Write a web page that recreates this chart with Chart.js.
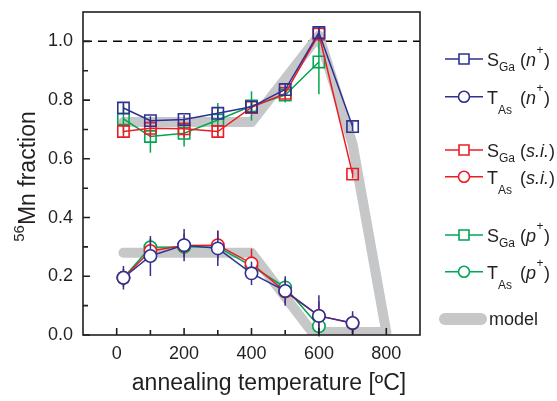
<!DOCTYPE html>
<html>
<head>
<meta charset="utf-8">
<script src="https://cdn.jsdelivr.net/npm/chart.js@4.4.1/dist/chart.umd.min.js"></script>
<style>
  html, body { margin: 0; padding: 0; background: #fff; }
</style>
</head>
<body>
<canvas id="chart" width="557" height="401"></canvas>
<script>
// annealing temperatures [ºC]
const temps = [20, 100, 200, 300, 400, 500, 600, 700];

// substitutional Ga site fraction
const sGaN  = [0.773, 0.730, 0.734, 0.755, 0.777, 0.836, 1.030, 0.710];
const sGaNErr = [0.02, 0.015, 0.015, 0.02, 0.02, 0.02, 0.02, 0.015];
const sGaSI = [0.693, 0.704, 0.702, 0.693, 0.775, 0.823, 1.025, 0.548];
const sGaSIErr = [0.02, 0.03, 0.03, 0.02, 0.02, 0.02, 0.025, 0.015];
const sGaP  = [0.736, 0.676, 0.687, 0.732, 0.780, 0.817, 0.930, null];
const sGaPErr = [0.05, 0.055, 0.045, 0.058, 0.05, 0.025, 0.11, null];

// tetrahedral As site fraction
const tAsN  = [0.195, 0.269, 0.306, 0.295, 0.210, 0.150, 0.065, 0.041];
const tAsNErr = [0.04, 0.068, 0.055, 0.06, 0.04, 0.05, 0.07, 0.04];
const tAsSI = [0.195, 0.286, 0.305, 0.306, 0.244, 0.148, 0.065, 0.040];
const tAsSIErr = [0.03, 0.04, 0.04, 0.05, 0.05, 0.04, 0.05, 0.03];
const tAsP  = [0.195, 0.299, 0.300, 0.300, 0.235, 0.162, 0.030, null];
const tAsPErr = [0.03, 0.03, 0.03, 0.03, 0.03, 0.03, 0.03, null];

// model curves
const modelUpperT = [20, 400, 600, 700, 800];
const modelUpperV = [0.725, 0.725, 1.02, 0.65, 0.01];
const modelLowerT = [20, 400, 580, 800];
const modelLowerV = [0.28, 0.28, 0.01, 0.01];

// axes
const xTicks = [0, 200, 400, 600, 800];
const xMinor = [100, 300, 500, 700];
const yTicks = [0, 0.2, 0.4, 0.6, 0.8, 1.0];
const yMinor = [0.1, 0.3, 0.5, 0.7, 0.9];
const xTitle = "annealing temperature [ºC]";
const yTitleSup = "56";
const yTitle = "Mn fraction";

// legend labels
const legendMain = ["S", "T", "S", "T", "S", "T"];
const legendSub = ["Ga", "As", "Ga", "As", "Ga", "As"];
const legendDop = ["n", "n", "s.i.", "s.i.", "p", "p"];
const legendSup = ["+", "+", "", "", "+", "+"];
const modelLabel = "model";

const FONT = "'Liberation Sans', Arial, Helvetica, sans-serif";
const BLUE = "#2e3192", RED = "#ed1c24", GREEN = "#00a651", GREY = "#c6c7c9";
const INK = "#231f20";

function series(label, vals, errs, color, style, order) {
  const data = [], e = [];
  temps.forEach((t, i) => {
    if (vals[i] != null) { data.push({ x: t, y: vals[i] }); e.push(errs[i]); }
  });
  return {
    label: label,
    data: data,
    errors: e,
    borderColor: color,
    borderWidth: 1.5,
    pointStyle: style,
    pointRadius: style === "rect" ? 8 : 6.2,
    pointBorderWidth: 1.6,
    pointBorderColor: color,
    pointBackgroundColor: style === "rect" ? "rgba(0,0,0,0)" : "#fff",
    tension: 0,
    order: order
  };
}

function model(ts, vs) {
  return {
    label: "model",
    data: ts.map((t, i) => ({ x: t, y: vs[i] })),
    borderColor: GREY,
    borderWidth: 10,
    borderCapStyle: "round",
    borderJoinStyle: "round",
    pointRadius: 0,
    tension: 0,
    order: 10
  };
}

// error bars, drawn just before each dataset
const errorBars = {
  id: "errorBars",
  beforeDatasetDraw(chart, args) {
    const ds = chart.data.datasets[args.index];
    if (!ds.errors) return;
    const y = chart.scales.y;
    const ctx = chart.ctx;
    ctx.save();
    ctx.strokeStyle = ds.borderColor;
    ctx.lineWidth = 1.5;
    args.meta.data.forEach((pt, i) => {
      const v = ds.data[i].y, e = ds.errors[i];
      ctx.beginPath();
      ctx.moveTo(pt.x, y.getPixelForValue(v + e));
      ctx.lineTo(pt.x, y.getPixelForValue(v - e));
      ctx.stroke();
    });
    ctx.restore();
  }
};

// frame, inner ticks, dashed 1.0 line, titles and legend
const decorations = {
  id: "decorations",
  beforeDatasetsDraw(chart) {
    const ctx = chart.ctx, a = chart.chartArea, y = chart.scales.y;
    ctx.save();
    ctx.strokeStyle = "#000";
    ctx.lineWidth = 1.5;
    ctx.setLineDash([9, 6]);
    const py = y.getPixelForValue(1.0);
    ctx.beginPath();
    ctx.moveTo(a.left, py);
    ctx.lineTo(a.right, py);
    ctx.stroke();
    ctx.restore();
  },
  afterDraw(chart) {
    const ctx = chart.ctx, a = chart.chartArea;
    const x = chart.scales.x, y = chart.scales.y;
    ctx.save();
    ctx.strokeStyle = INK;
    ctx.lineWidth = 1.6;
    ctx.strokeRect(a.left, a.top, a.right - a.left, a.bottom - a.top);
    ctx.beginPath();
    yTicks.forEach(v => { const p = y.getPixelForValue(v); ctx.moveTo(a.left, p); ctx.lineTo(a.left + 7, p); });
    yMinor.forEach(v => { const p = y.getPixelForValue(v); ctx.moveTo(a.left, p); ctx.lineTo(a.left + 5, p); });
    xTicks.forEach(v => { const p = x.getPixelForValue(v); ctx.moveTo(p, a.bottom); ctx.lineTo(p, a.bottom - 7); });
    xMinor.forEach(v => { const p = x.getPixelForValue(v); ctx.moveTo(p, a.bottom); ctx.lineTo(p, a.bottom - 5); });
    ctx.stroke();

    // axis titles
    ctx.fillStyle = INK;
    ctx.textBaseline = "alphabetic";
    ctx.textAlign = "left";
    ctx.font = "23px " + FONT;
    const wx = ctx.measureText(xTitle).width;
    ctx.fillText(xTitle, 269 - wx / 2, 390);

    ctx.save();
    ctx.translate(35, 176.5);
    ctx.rotate(-Math.PI / 2);
    ctx.font = "15px " + FONT;
    const w56 = ctx.measureText(yTitleSup).width;
    ctx.font = "23px " + FONT;
    const wMn = ctx.measureText(yTitle).width;
    const x0 = -(w56 + wMn) / 2;
    ctx.font = "15px " + FONT;
    ctx.fillText(yTitleSup, x0, -11);
    ctx.font = "23px " + FONT;
    ctx.fillText(yTitle, x0 + w56, 0);
    ctx.restore();

    // legend
    const rows = [59, 96.7, 150, 176.7, 235, 271.7];
    const colors = [BLUE, BLUE, RED, RED, GREEN, GREEN];
    rows.forEach((ry, i) => {
      const c = colors[i];
      ctx.strokeStyle = c;
      ctx.lineWidth = 1.5;
      ctx.beginPath();
      ctx.moveTo(445, ry); ctx.lineTo(483, ry);
      ctx.stroke();
      ctx.fillStyle = "#fff";
      ctx.lineWidth = 1.6;
      ctx.beginPath();
      if (legendMain[i] === "S") ctx.rect(459, ry - 5, 10, 10);
      else ctx.arc(464, ry, 5.5, 0, Math.PI * 2);
      ctx.fill();
      ctx.stroke();

      ctx.fillStyle = INK;
      const base = ry + 7;
      ctx.font = "18px " + FONT;
      ctx.fillText(legendMain[i], 487, base);
      const wm = ctx.measureText(legendMain[i]).width;
      ctx.font = "12px " + FONT;
      ctx.fillText(legendSub[i], 487 + wm, base + (legendMain[i] === "S" ? 5 : 10));
      let px = 520;
      ctx.font = "18px " + FONT;
      ctx.fillText("(", px, base);
      px += ctx.measureText("(").width;
      ctx.font = "italic 18px " + FONT;
      ctx.fillText(legendDop[i], px, base);
      px += ctx.measureText(legendDop[i]).width;
      if (legendSup[i]) {
        ctx.font = "12px " + FONT;
        ctx.fillText(legendSup[i], px + 0.5, base - 12);
        px += ctx.measureText(legendSup[i]).width + 1;
      }
      ctx.font = "18px " + FONT;
      ctx.fillText(")", px, base);
    });

    ctx.strokeStyle = GREY;
    ctx.lineWidth = 12;
    ctx.lineCap = "round";
    ctx.beginPath();
    ctx.moveTo(445, 319); ctx.lineTo(481, 319);
    ctx.stroke();
    ctx.fillStyle = INK;
    ctx.font = "18px " + FONT;
    ctx.fillText(modelLabel, 489, 325);
    ctx.restore();
  }
};

new Chart(document.getElementById("chart"), {
  type: "line",
  data: {
    datasets: [
      series("SGa (n+)", sGaN, sGaNErr, BLUE, "rect", 1),
      series("TAs (n+)", tAsN, tAsNErr, BLUE, "circle", 1),
      series("SGa (s.i.)", sGaSI, sGaSIErr, RED, "rect", 2),
      series("TAs (s.i.)", tAsSI, tAsSIErr, RED, "circle", 2),
      series("SGa (p+)", sGaP, sGaPErr, GREEN, "rect", 3),
      series("TAs (p+)", tAsP, tAsPErr, GREEN, "circle", 3),
      model(modelUpperT, modelUpperV),
      model(modelLowerT, modelLowerV)
    ]
  },
  options: {
    responsive: false,
    animation: false,
    events: [],
    layout: { padding: { left: 0, right: 137, top: 12, bottom: 0 } },
    plugins: { legend: { display: false }, tooltip: { enabled: false } },
    scales: {
      x: {
        type: "linear",
        min: -100,
        max: 900,
        grid: { display: false, drawTicks: false, tickLength: 0 },
        border: { display: false },
        afterBuildTicks: s => { s.ticks = xTicks.map(v => ({ value: v })); },
        afterFit: s => { s.height = 66; s.paddingLeft = 0; s.paddingRight = 0; },
        ticks: { color: INK, padding: 8, font: { family: FONT, size: 18 }, maxRotation: 0 }
      },
      y: {
        type: "linear",
        min: 0,
        max: 1.1,
        grid: { display: false, drawTicks: false, tickLength: 0 },
        border: { display: false },
        afterBuildTicks: s => { s.ticks = yTicks.map(v => ({ value: v })); },
        afterFit: s => { s.width = 83; s.paddingTop = 0; s.paddingBottom = 0; },
        ticks: { color: INK, padding: 10, font: { family: FONT, size: 18 }, callback: v => v.toFixed(1) }
      }
    }
  },
  plugins: [errorBars, decorations]
});
</script>
</body>
</html>
